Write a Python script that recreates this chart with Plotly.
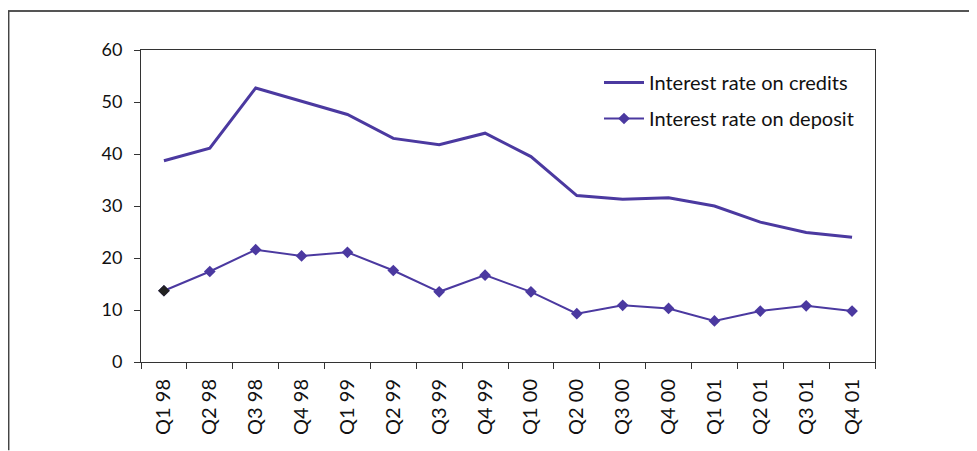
import plotly.graph_objects as go

quarters = ["Q1 98", "Q2 98", "Q3 98", "Q4 98", "Q1 99", "Q2 99", "Q3 99", "Q4 99",
            "Q1 00", "Q2 00", "Q3 00", "Q4 00", "Q1 01", "Q2 01", "Q3 01", "Q4 01"]
credits = [38.7, 41.1, 52.7, 50.2, 47.6, 43.0, 41.8, 44.0,
           39.5, 32.0, 31.3, 31.6, 30.0, 26.9, 24.9, 24.0]
deposit = [13.7, 17.4, 21.6, 20.4, 21.1, 17.6, 13.5, 16.7,
           13.5, 9.3, 10.9, 10.3, 7.9, 9.8, 10.8, 9.8]

LINE = "#4B39A0"
FONT = "Lato, 'Open Sans', sans-serif"

fig = go.Figure()
fig.add_trace(go.Scatter(x=quarters, y=credits, mode="lines",
                         name="Interest rate on credits", legendgroup="a",
                         line=dict(color=LINE, width=3)))
fig.add_trace(go.Scatter(x=quarters, y=deposit, mode="lines+markers",
                         name="Interest rate on deposit", legendgroup="b",
                         line=dict(color=LINE, width=2),
                         marker=dict(symbol="diamond", size=9, color=LINE)))
# first deposit point highlighted in dark
fig.add_trace(go.Scatter(x=quarters[:1], y=deposit[:1], mode="markers",
                         showlegend=False, hoverinfo="skip",
                         marker=dict(symbol="diamond", size=9, color="#222222")))

# page is offset by 8px body margin
OFF = 8
W, H = 977 - OFF, 451 - OFF
L, R, T, B = 141 - OFF, 875 - OFF, 50 - OFF, 362.5 - OFF

def px(x):
    return (x - OFF - L) / (R - L)

def py(y):
    return (B - (y - OFF)) / (B - T)

fig.update_layout(
    width=W, height=H,
    margin=dict(l=L, r=W - R, t=T, b=H - B),
    paper_bgcolor="white", plot_bgcolor="white",
    font=dict(family=FONT, size=17, color="#111111"),
    showlegend=True,
    legend=dict(x=px(599), y=py(63), xanchor="left", yanchor="top",
                bgcolor="rgba(0,0,0,0)", font=dict(size=20),
                tracegroupgap=7, itemwidth=40),
    shapes=[
        dict(type="line", xref="paper", yref="paper",
             x0=px(0), x1=px(977), y0=py(11), y1=py(11),
             line=dict(color="#555555", width=2)),
        dict(type="line", xref="paper", yref="paper",
             x0=px(OFF + 0.7), x1=px(OFF + 0.7), y0=py(11), y1=py(451),
             line=dict(color="#444444", width=1.5)),
    ],
)
fig.update_xaxes(type="category", range=[-0.5, len(quarters) - 0.5],
                 showline=True, linecolor="#333333", linewidth=1,
                 mirror=True, ticks="outside", tickson="boundaries", ticklen=6,
                 tickcolor="#333333", tickangle=-90, showgrid=False,
                 ticklabelstandoff=8, tickfont=dict(size=20))
fig.update_yaxes(range=[0, 60], dtick=10, showline=True, linecolor="#333333",
                 linewidth=1, mirror=True, ticks="outside", ticklen=6,
                 tickcolor="#333333", showgrid=False, zeroline=False,
                 ticklabelstandoff=8, tickfont=dict(size=18))

fig.write_html("out.html")
